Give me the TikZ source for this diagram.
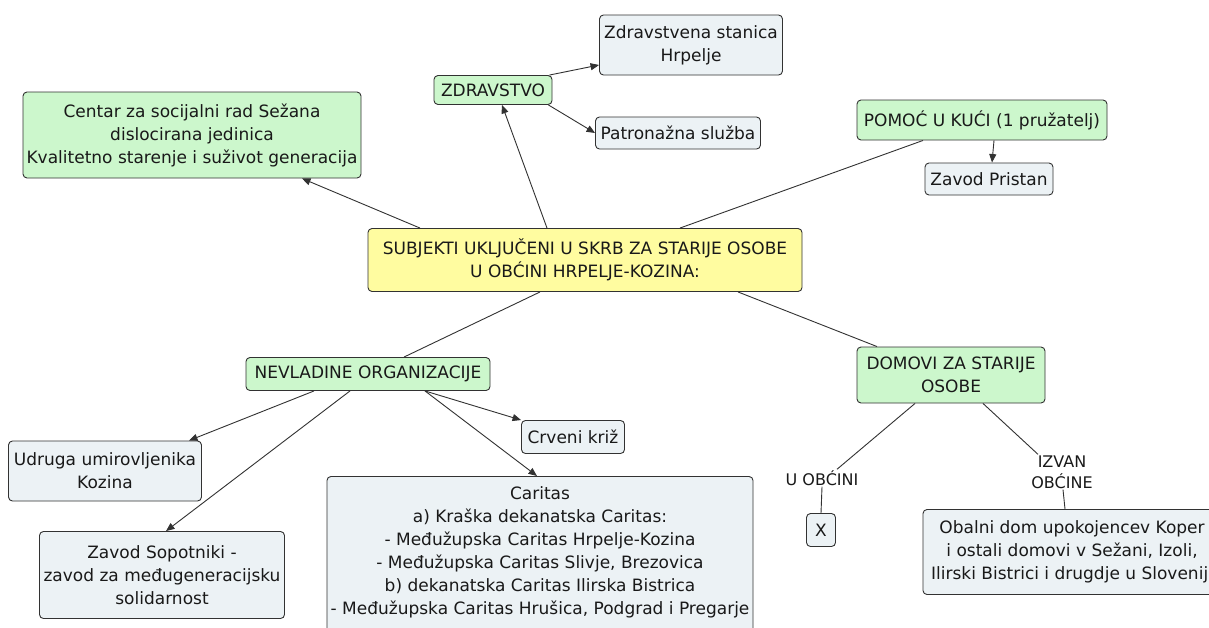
\documentclass[tikz,border=0pt]{standalone}
\usepackage{fontspec}
\setmainfont{DejaVu Sans}
\usetikzlibrary{arrows.meta}
\definecolor{cgreen}{RGB}{204,247,204}
\definecolor{cgrey}{RGB}{236,242,245}
\definecolor{cyellow}{RGB}{255,252,160}
\definecolor{cline}{RGB}{50,50,50}
\newcommand{\mainfs}{\fontsize{17}{23}\selectfont}
\newcommand{\lblfs}{\fontsize{16}{21}\selectfont}
\tikzset{
  cbox/.style={draw=cline, line width=0.9pt, rounded corners=4pt, align=center,
    inner sep=0pt, font=\mainfs, text=black!90},
  gbox/.style={cbox, fill=cgreen},
  bbox/.style={cbox, fill=cgrey},
  ybox/.style={cbox, fill=cyellow},
  lbl/.style={align=center, inner sep=1pt, font=\lblfs, text=black!90},
  link/.style={draw=cline, line width=0.9pt},
  arr/.style={link, -{Triangle[length=8.5pt,width=7pt]}},
}
\begin{document}
\begin{tikzpicture}[x=1pt,y=-1pt]
\useasboundingbox (0,0) rectangle (1209,627);
\clip (0,0) rectangle (1209,627);
\fill[white] (0,0) rectangle (1209,627);

\node[gbox, minimum width=338pt, minimum height=86pt] (centar) at (192,135)
  {Centar za socijalni rad Sežana\\dislocirana jedinica\\Kvalitetno starenje i suživot generacija};
\node[gbox, minimum width=118pt, minimum height=29pt] (zdr) at (493,90) {ZDRAVSTVO};
\node[bbox, minimum width=183pt, minimum height=60pt] (zs) at (691,45) {Zdravstvena stanica\\Hrpelje};
\node[bbox, minimum width=165pt, minimum height=32pt] (pat) at (678,133) {Patronažna služba};
\node[gbox, minimum width=250pt, minimum height=40pt] (pomoc) at (982,120) {POMOĆ U KUĆI (1 pružatelj)};
\node[bbox, minimum width=128pt, minimum height=32pt] (pristan) at (989,179) {Zavod Pristan};
\node[ybox, minimum width=434pt, minimum height=63pt] (central) at (585,260)
  {SUBJEKTI UKLJUČENI U SKRB ZA STARIJE OSOBE\\U OBĆINI HRPELJE-KOZINA:};
\node[gbox, minimum width=244pt, minimum height=33pt] (nev) at (368,374) {NEVLADINE ORGANIZACIJE};
\node[bbox, minimum width=193pt, minimum height=60pt] (udr) at (105,471) {Udruga umirovljenika\\Kozina};
\node[bbox, minimum width=245pt, minimum height=87pt] (sop) at (162,575)
  {Zavod Sopotniki -\\zavod za međugeneracijsku\\solidarnost};
\node[bbox, minimum width=103pt, minimum height=33pt] (crv) at (573,437) {Crveni križ};
\node[bbox, minimum width=426pt, minimum height=172pt, anchor=north] (car) at (540,476)
  {Caritas\\a) Kraška dekanatska Caritas:\\- Međužupska Caritas Hrpelje-Kozina\\- Međužupska Caritas Slivje, Brezovica\\b) dekanatska Caritas Ilirska Bistrica\\- Međužupska Caritas Hrušica, Podgrad i Pregarje\\\mbox{}};
\node[gbox, minimum width=188pt, minimum height=56pt] (dom) at (951,375) {DOMOVI ZA STARIJE\\OSOBE};
\node[lbl] (uob) at (822,478) {U OBĆINI};
\node[bbox, minimum width=29pt, minimum height=33pt] (xb) at (821,530) {X};
\node[lbl] (izv) at (1062,472) {IZVAN\\OBĆINE};
\node[bbox, minimum width=298pt, minimum height=85pt] (obal) at (1072,552)
  {Obalni dom upokojencev Koper\\i ostali domovi v Sežani, Izoli,\\Ilirski Bistrici i drugdje u Sloveniji};

\draw[arr] ([xshift=-165pt]central.north) -- ([xshift=110pt]centar.south);
\draw[arr] ([xshift=-38pt]central.north) -- ([xshift=9pt]zdr.south);
\draw[link] ([xshift=95pt]central.north) -- ([xshift=-59pt]pomoc.south);
\draw[arr] ([xshift=12pt]pomoc.south) -- ([xshift=3pt]pristan.north);
\draw[arr] ([xshift=-3pt]zdr.north east) -- ([yshift=-20pt]zs.west);
\draw[arr] ([xshift=-4pt]zdr.south east) -- (pat.west);
\draw[link] ([xshift=-45pt]central.south) -- ([xshift=36pt]nev.north);
\draw[link] ([xshift=153pt]central.south) -- ([xshift=-74pt]dom.north);
\draw[arr] ([xshift=-54pt]nev.south) -- ([xshift=84pt]udr.north);
\draw[arr] ([xshift=-18pt]nev.south) -- ([xshift=4pt]sop.north);
\draw[arr] ([xshift=57pt]nev.south) -- (crv.north west);
\draw[arr] ([xshift=57pt]nev.south) -- ([xshift=-3pt]car.north);
\draw[link] ([xshift=-36pt]dom.south) -- ([xshift=15pt]uob.north);
\draw[link] (uob.south) -- (xb.north);
\draw[link] ([xshift=32pt]dom.south) -- ([xshift=-24pt]izv.north);
\draw[link] ([xshift=1pt]izv.south) -- ([xshift=-7pt]obal.north);
\end{tikzpicture}
\end{document}
